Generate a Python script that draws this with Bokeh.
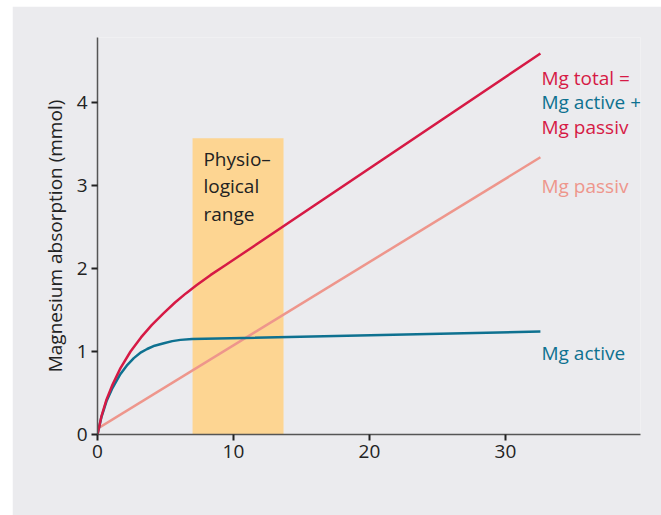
from bokeh.plotting import figure
from bokeh.models import Range1d, Label, FixedTicker
from bokeh.embed import file_html
from bokeh.resources import INLINE

# ---- data ----
dosage_total = [0, 0.29, 0.66, 1.10, 1.69, 2.43, 3.2, 4.0, 4.85, 5.7, 6.5, 7.3, 8.3, 9.4, 10.5, 32.57]
absorb_total = [0, 0.22, 0.42, 0.60, 0.80, 1.00, 1.17, 1.32, 1.46, 1.59, 1.70, 1.80, 1.92, 2.04, 2.16, 4.59]

dosage_active = [0, 0.29, 0.66, 1.10, 1.69, 2.2, 2.67, 3.2, 3.65, 4.2, 4.88, 5.5, 6.1, 6.96, 32.57]
absorb_active = [0, 0.21, 0.40, 0.56, 0.73, 0.84, 0.92, 0.99, 1.03, 1.07, 1.10, 1.125, 1.14, 1.15, 1.24]

dosage_passive = [0, 32.57]
absorb_passive = [0.07, 3.34]

physio_left = [6.99]
physio_right = [13.68]
physio_top = [3.57]

x_ticks = [0, 10, 20, 30]
y_ticks = [0, 1, 2, 3, 4]

GREY = "#EBEBEE"
RED = "#D61A45"
TEAL = "#0E7190"
SALMON = "#EE968C"
ORANGE = "#FDD592"
DARK = "#222222"
FONT = "Open Sans"
FS = "19px"

p = figure(width=649, height=509,
           x_range=Range1d(0, 39.93), y_range=Range1d(0, 4.783),
           output_backend="svg", toolbar_location=None,
           min_border_left=85, min_border_right=21,
           min_border_top=31, min_border_bottom=81,
           background_fill_color=GREY, border_fill_color=GREY,
           outline_line_color=None)
p.margin = (6, 0, 0, 12)
p.xgrid.visible = False
p.ygrid.visible = False

# physiological range
p.quad(left=physio_left, right=physio_right, bottom=[0], top=physio_top,
       fill_color=ORANGE, line_color=None)

p.line(dosage_passive, absorb_passive, line_color=SALMON, line_width=2.5)
p.line(dosage_active, absorb_active, line_color=TEAL, line_width=2.5)
p.line(dosage_total, absorb_total, line_color=RED, line_width=2.5)

for ax in (p.xaxis[0], p.yaxis[0]):
    ax.axis_line_color = "#555555"
    ax.axis_line_width = 1.5
    ax.major_tick_line_color = DARK
    ax.major_tick_line_width = 2
    ax.major_tick_out = 6
    ax.major_tick_in = 0
    ax.minor_tick_line_color = None
    ax.major_label_text_font = FONT
    ax.major_label_text_font_size = FS
    ax.major_label_text_color = DARK
    ax.major_label_standoff = 4

p.xaxis[0].ticker = FixedTicker(ticks=x_ticks)
p.yaxis[0].ticker = FixedTicker(ticks=y_ticks)

p.yaxis[0].axis_label = "Magnesium absorption (mmol)"
p.yaxis[0].axis_label_text_font = FONT
p.yaxis[0].axis_label_text_font_size = FS
p.yaxis[0].axis_label_text_font_style = "normal"
p.yaxis[0].axis_label_text_color = DARK
p.yaxis[0].axis_label_standoff = 6

def lab(x, y, text, color, align="left"):
    p.add_layout(Label(x=x, y=y, text=text, text_font=FONT, text_font_size=FS,
                       text_color=color, text_baseline="middle", text_align=align))

lab(18.4, -0.60, "Magnesium dosage (mmol)", DARK, "center")

lab(7.79, 3.325, "Physio–", DARK)
lab(7.79, 2.99, "logical", DARK)
lab(7.79, 2.66, "range", DARK)

lab(32.65, 4.30, "Mg total =", RED)
lab(32.65, 4.00, "Mg active +", TEAL)
lab(32.65, 3.70, "Mg passiv", RED)
lab(32.65, 2.99, "Mg passiv", SALMON)
lab(32.65, 0.976, "Mg active", TEAL)

open("out.html", "w").write(file_html(p, INLINE))
